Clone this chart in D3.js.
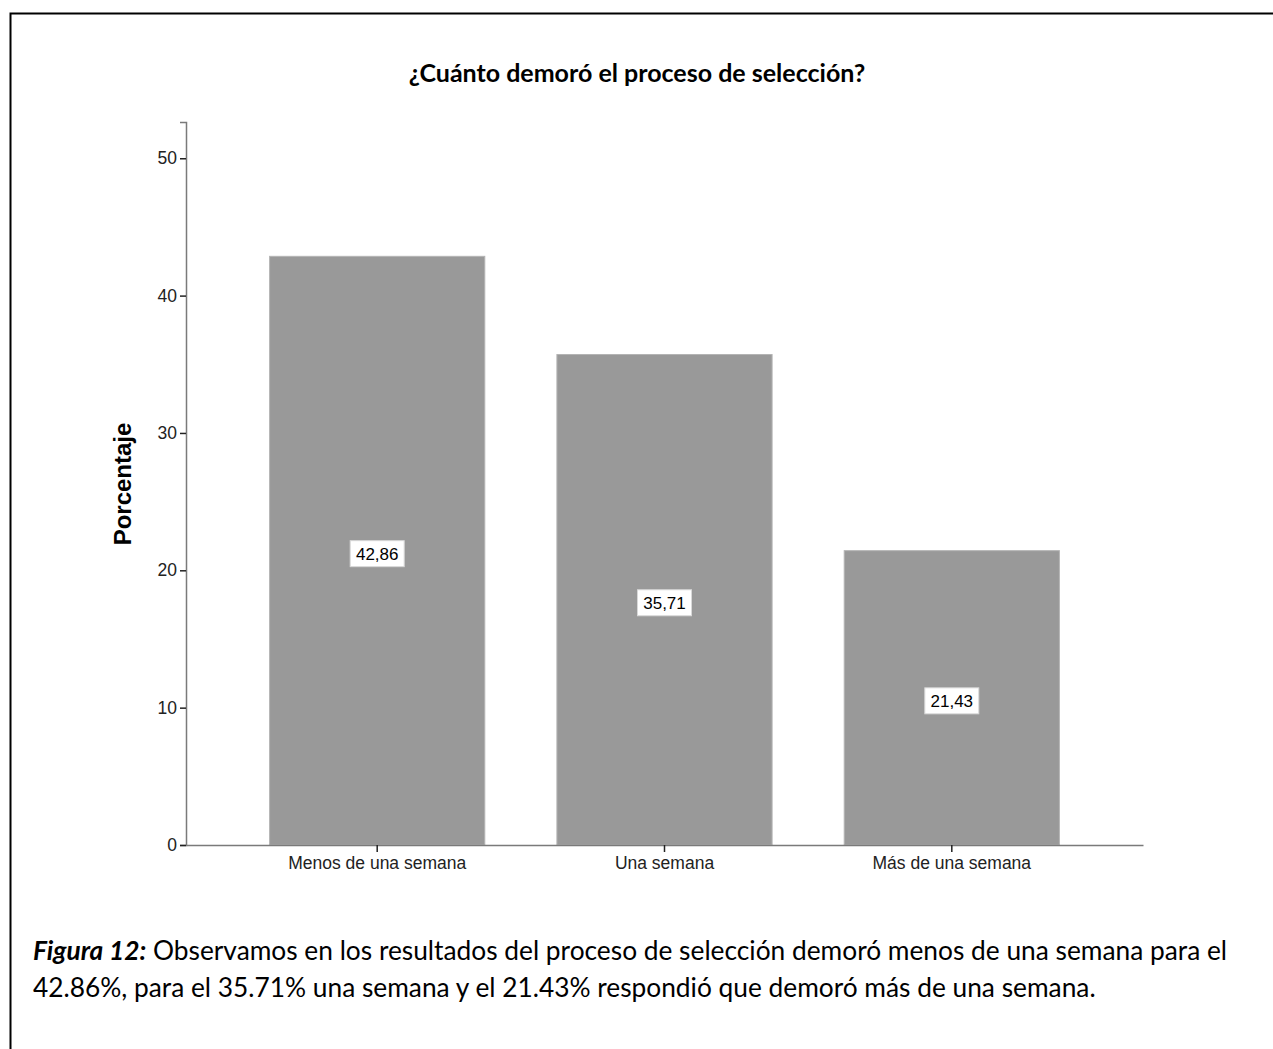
<!DOCTYPE html>
<html>
<head>
<meta charset="utf-8">
<script src="https://cdn.jsdelivr.net/npm/d3@7"></script>
<style>
  html, body { margin: 0; padding: 0; background: #fff; }
  svg { display: block; }
</style>
</head>
<body>
<svg id="chart" width="1273" height="1049"></svg>
<script>
// Survey answers: how long the selection process took
const categories = ["Menos de una semana", "Una semana", "Más de una semana"];
const percentages = [42.86, 35.71, 21.43];
const valueLabels = ["42,86", "35,71", "21,43"];
const yTicks = [0, 10, 20, 30, 40, 50];

const titleText = "¿Cuánto demoró el proceso de selección?";
const yTitle = "Porcentaje";
const captionLead = "Figura 12:";
const captionLine1 = " Observamos en los resultados del proceso de selección demoró menos de una semana para el";
const captionLine2 = "42.86%, para el 35.71% una semana y el 21.43% respondió que demoró más de una semana.";

const svg = d3.select("#chart");
const W = 1273, H = 1049;

svg.append("rect").attr("width", W).attr("height", H).attr("fill", "#fff");

// Frame around the figure (top and left edges visible)
svg.append("path")
  .attr("d", `M10.5,${H} V13.5 H${W}`)
  .attr("fill", "none")
  .attr("stroke", "#000")
  .attr("stroke-width", 2);

// Scales
const x = d3.scaleBand()
  .domain(categories)
  .range([186, 1143])
  .paddingInner(0.251)
  .paddingOuter(0.291);

const y = d3.scaleLinear()
  .domain([0, 52.64])
  .range([845, 122]);

const axisFont = "'Liberation Sans', Arial, sans-serif";

// Title
svg.append("text")
  .attr("x", 637)
  .attr("y", 82)
  .attr("text-anchor", "middle")
  .style("font-family", "Lato, 'Open Sans', sans-serif")
  .style("font-weight", "bold")
  .style("font-size", "25px")
  .attr("fill", "#000")
  .text(titleText);

// Bars
svg.append("g").selectAll("rect")
  .data(percentages)
  .join("rect")
  .attr("x", (d, i) => x(categories[i]))
  .attr("y", d => y(d))
  .attr("width", x.bandwidth())
  .attr("height", d => y(0) - y(d))
  .attr("fill", "#999999")
  .attr("stroke", "#b4b4b4")
  .attr("stroke-width", 1);

// Y axis
const yAxis = svg.append("g")
  .attr("transform", "translate(186,0)")
  .call(d3.axisLeft(y).tickValues(yTicks).tickSize(6).tickPadding(3).tickFormat(d3.format("d")));
yAxis.select(".domain").attr("stroke", "#7a7a7a").attr("stroke-width", 1.5);
yAxis.selectAll(".tick line").attr("stroke", "#222").attr("stroke-width", 1.5);
yAxis.selectAll(".tick text")
  .style("font-family", axisFont)
  .style("font-size", "17.5px")
  .attr("fill", "#222");

// X axis
const xAxis = svg.append("g")
  .attr("transform", "translate(0,845)")
  .call(d3.axisBottom(x).tickSize(7).tickSizeOuter(0).tickPadding(5));
xAxis.select(".domain").attr("stroke", "#7a7a7a").attr("stroke-width", 1.5);
xAxis.selectAll(".tick line").attr("stroke", "#222").attr("stroke-width", 1.5);
xAxis.selectAll(".tick text")
  .style("font-family", axisFont)
  .style("font-size", "17.5px")
  .attr("fill", "#222");

// Y axis title
svg.append("text")
  .attr("transform", "translate(131,484) rotate(-90)")
  .attr("text-anchor", "middle")
  .style("font-family", axisFont)
  .style("font-weight", "bold")
  .style("font-size", "24px")
  .attr("fill", "#000")
  .text(yTitle);

// Value labels centred in each bar
const labels = svg.append("g").selectAll("g")
  .data(percentages)
  .join("g")
  .attr("transform", (d, i) => `translate(${x(categories[i]) + x.bandwidth() / 2},${(y(d) + y(0)) / 2 + 3})`);

labels.append("rect")
  .attr("x", -27).attr("y", -13)
  .attr("width", 54).attr("height", 26)
  .attr("fill", "#fff")
  .attr("stroke", "#d8d8d8")
  .attr("stroke-width", 1);

labels.append("text")
  .attr("text-anchor", "middle")
  .attr("dy", "0.36em")
  .style("font-family", axisFont)
  .style("font-size", "17px")
  .attr("fill", "#000")
  .text((d, i) => valueLabels[i]);

// Caption below the chart
const cap = svg.append("g")
  .style("font-family", "Lato, 'Open Sans', sans-serif")
  .style("font-size", "26.3px")
  .attr("fill", "#000");

const l1 = cap.append("text").attr("x", 33).attr("y", 960);
l1.append("tspan").style("font-weight", "bold").style("font-style", "italic").text(captionLead);
l1.append("tspan").text(captionLine1);

cap.append("text").attr("x", 33).attr("y", 997).text(captionLine2);
</script>
</body>
</html>
